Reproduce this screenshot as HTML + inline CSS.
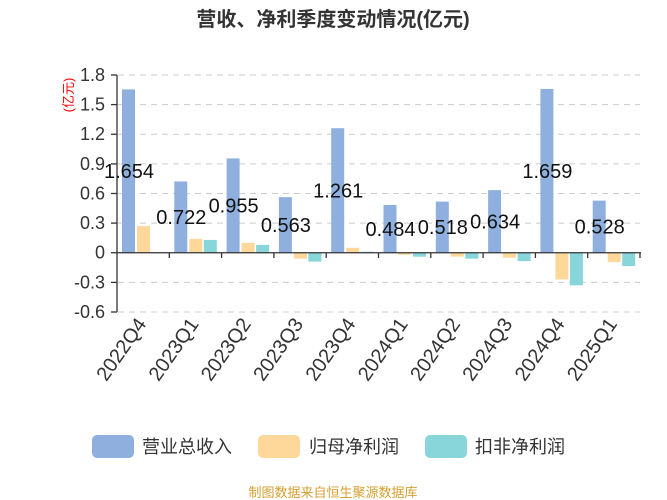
<!DOCTYPE html>
<html><head><meta charset="utf-8"><style>
html,body{margin:0;padding:0;background:#fff;}
svg{display:block;font-family:"Liberation Sans","Noto Sans CJK SC",sans-serif;}
</style></head><body>
<svg width="667" height="500" xmlns="http://www.w3.org/2000/svg">
<text x="333" y="26" text-anchor="middle" font-size="20" font-weight="bold" fill="#333">营收、净利季度变动情况(亿元)</text>
<text transform="translate(73,95) rotate(-90)" text-anchor="middle" font-size="13" fill="#ff0000">(亿元)</text>
<g stroke="#ccc" stroke-dasharray="6,5" stroke-width="1">
<line x1="118" x2="640" y1="75" y2="75"/>
<line x1="118" x2="640" y1="104.6" y2="104.6"/>
<line x1="118" x2="640" y1="134.25" y2="134.25"/>
<line x1="118" x2="640" y1="163.9" y2="163.9"/>
<line x1="118" x2="640" y1="193.5" y2="193.5"/>
<line x1="118" x2="640" y1="223.1" y2="223.1"/>
<line x1="118" x2="640" y1="282.4" y2="282.4"/>
<line x1="118" x2="640" y1="312" y2="312"/>
</g>
<g font-size="18" fill="#333" text-anchor="end">
<text x="105" y="81">1.8</text>
<text x="105" y="110.6">1.5</text>
<text x="105" y="140.2">1.2</text>
<text x="105" y="169.9">0.9</text>
<text x="105" y="199.5">0.6</text>
<text x="105" y="229.1">0.3</text>
<text x="105" y="258.7">0</text>
<text x="105" y="288.4">-0.3</text>
<text x="105" y="318">-0.6</text>
</g>
<g id="bars"></g>
<g stroke="#333" stroke-width="1.3">
<line x1="117" x2="117" y1="75" y2="312"/>
<line x1="111" x2="117" y1="75" y2="75"/><line x1="111" x2="117" y1="104.6" y2="104.6"/><line x1="111" x2="117" y1="134.25" y2="134.25"/><line x1="111" x2="117" y1="163.9" y2="163.9"/><line x1="111" x2="117" y1="193.5" y2="193.5"/><line x1="111" x2="117" y1="223.1" y2="223.1"/><line x1="111" x2="117" y1="252.75" y2="252.75"/><line x1="111" x2="117" y1="282.4" y2="282.4"/><line x1="111" x2="117" y1="312" y2="312"/>
<line x1="117" x2="641" y1="252.75" y2="252.75"/>
</g>
<g id="ticks" stroke="#333" stroke-width="1.3"></g>
<g id="lbl" font-size="20" fill="#111" text-anchor="middle"></g>
<g id="xl" font-size="20" fill="#333" text-anchor="end"></g>
<rect x="92" y="435" width="42" height="23" rx="5" fill="#8fb0de"/>
<text x="142" y="453" font-size="18" fill="#333">营业总收入</text>
<rect x="258" y="435" width="42" height="23" rx="5" fill="#fdd89a"/>
<text x="309" y="453" font-size="18" fill="#333">归母净利润</text>
<rect x="425" y="435" width="42" height="23" rx="5" fill="#88d6d9"/>
<text x="475" y="453" font-size="18" fill="#333">扣非净利润</text>
<text x="333" y="497" text-anchor="middle" font-size="13" fill="#d4a030">制图数据来自恒生聚源数据库</text>
<script>
var ns="http://www.w3.org/2000/svg";
var cats=["2022Q4","2023Q1","2023Q2","2023Q3","2023Q4","2024Q1","2024Q2","2024Q3","2024Q4","2025Q1"];
var a=[1.654,0.722,0.955,0.563,1.261,0.484,0.518,0.634,1.659,0.528];
var b=[0.27,0.14,0.10,-0.06,0.05,-0.02,-0.04,-0.05,-0.27,-0.095];
var c=[0.005,0.13,0.08,-0.09,0.01,-0.04,-0.06,-0.085,-0.33,-0.135];
var Z=252.75,U=98.75,W=52.3,X0=117;
function el(t,at,p){var e=document.createElementNS(ns,t);for(var k in at)e.setAttribute(k,at[k]);document.getElementById(p).appendChild(e);return e;}
function bar(x,v,col){var h=Math.abs(v)*U;el("rect",{x:x,y:v>=0?Z-h:Z,width:13,height:Math.max(h,0.5),fill:col},"bars");}
for(var i=0;i<10;i++){
 var s=X0+i*W;
 bar(s+5,a[i],"#8fb0de");bar(s+20,b[i],"#fdd89a");bar(s+34.5,c[i],"#88d6d9");
 el("line",{x1:s+W,x2:s+W,y1:252.75,y2:258},"ticks");
 var t=el("text",{x:s+12,y:Z-a[i]*U/2+7},"lbl");t.textContent=a[i];
 var cx=s+W/2+4;
 var q=el("text",{transform:"translate("+cx+",324) rotate(-55)"},"xl");q.textContent=cats[i];
}
</script>
</svg>
</body></html>
